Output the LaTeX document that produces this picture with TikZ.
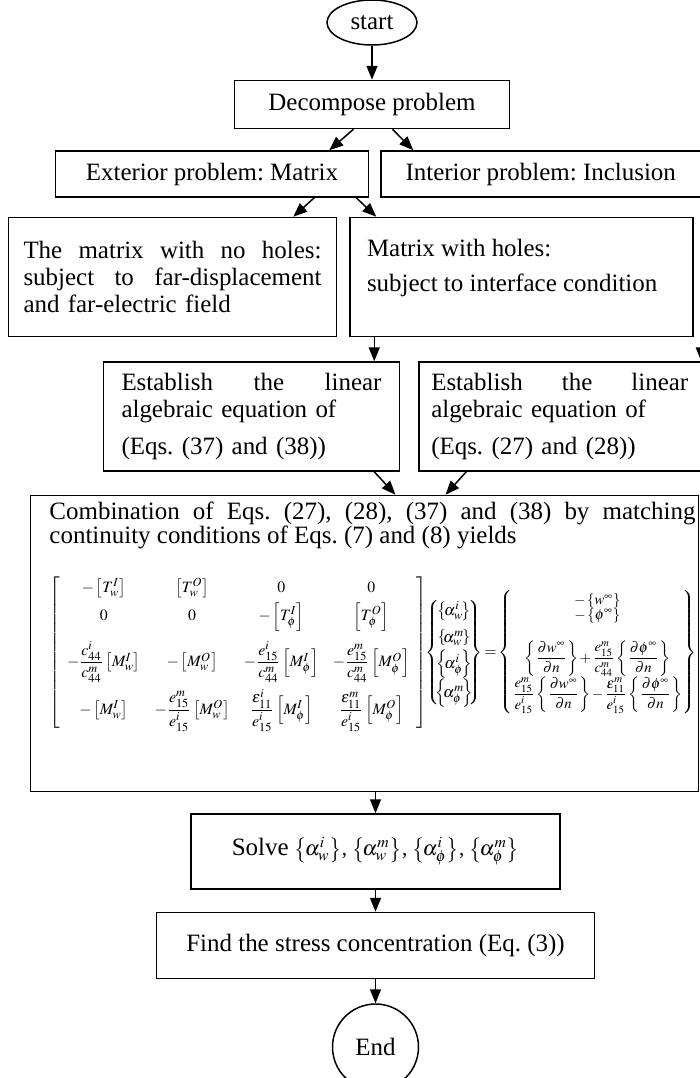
\documentclass[tikz,border=0pt]{standalone}
\usepackage{amsmath}
\usepackage{mathptmx}
\usepackage[no-math]{fontspec}
\setmainfont{Liberation Serif}
\usetikzlibrary{arrows.meta, positioning, shapes.geometric}
\frenchspacing

\newcommand{\fullline}[2]{\makebox[#1][s]{\spaceskip=0pt\xspaceskip=0pt #2}}
\newcommand{\eqsize}{\fontsize{9pt}{10pt}\selectfont}
\newcommand{\rhssize}{\fontsize{8.4pt}{9.4pt}\selectfont}

\begin{document}
\begin{tikzpicture}[
  font=\fontsize{14.2pt}{15.2pt}\selectfont,
  node distance=4mm,
  box/.style={draw, line width=0.3mm, inner sep=0pt, align=center},
  tbox/.style={draw, line width=0.3mm, inner xsep=3.4mm, inner ysep=4.4mm},
  term/.style={draw, line width=0.3mm, inner sep=0pt},
  ar/.style={-{Triangle[length=2.8mm, width=2.2mm]}, line width=0.3mm},
]
\useasboundingbox (0,0) rectangle (140mm,-215.6mm);

%% start + decomposition
\node[term, ellipse, minimum width=18mm, minimum height=9mm] (start) at (74.4mm,-4.5mm) {start};
\node[box, below=6.8mm of start, minimum width=55mm, minimum height=9.6mm] (decomp) {Decompose problem};

%% exterior / interior
\node[box, below=4.2mm of decomp, xshift=-32mm, minimum width=62.6mm, minimum height=9.2mm] (exter)
  {Exterior problem: Matrix};
\node[box, right=2.2mm of exter, minimum width=63.9mm, minimum height=9.2mm] (inter)
  {Interior problem: Inclusion};

%% matrix with / without holes
\node[box, below=3.8mm of exter, xshift=-7.9mm, minimum width=65.6mm, minimum height=23.8mm,
      text width=59.6mm, align=left] (nohole)
  {\fullline{59.6mm}{The matrix with no holes:}\\ \fullline{59.6mm}{subject to far-displacement}\\
   and far-electric field};
\node[tbox, right=2.4mm of nohole] (holes)
  {\parbox[c][15mm][t]{61.8mm}{Matrix with holes:\\[1.6mm] subject to interface condition}};

%% linear algebraic equations
\node[box, below=4.8mm of nohole, xshift=15.8mm, minimum width=59.2mm, minimum height=21.8mm,
      text width=52mm, align=left] (est1)
  {\fullline{52mm}{Establish the linear}\\ algebraic equation of\\[2mm] (Eqs. (37) and (38))};
\node[box, right=3.6mm of est1, minimum width=56.3mm, minimum height=21.8mm,
      text width=51.4mm, align=left] (est2)
  {\fullline{51.4mm}{Establish the linear}\\ algebraic equation of\\[2mm] (Eqs. (27) and (28))};

%% combined system
\node[tbox, below=4.6mm of est1, xshift=22.6mm, inner xsep=0.6mm, inner ysep=1.2mm] (comb)
  {\hspace*{3.2mm}\parbox[c][56.8mm][t]{129.2mm}{%
    {\fontsize{14.2pt}{14pt}\selectfont\lineskiplimit=-5pt
     \fullline{\linewidth}{Combination of Eqs. (27), (28), (37) and (38) by matching}\\
     continuity conditions of Eqs. (7) and (8) yields\par}
    \vspace{4.4mm}
    {\eqsize\renewcommand{\arraystretch}{1.6}\setlength{\arraycolsep}{4pt}%
    \mbox{$\left[\begin{array}{cccc}
      -\left[T^{I}_{w}\right] & \left[T^{O}_{w}\right] & 0 & 0\\
      0 & 0 & -\left[T^{I}_{\phi}\right] & \left[T^{O}_{\phi}\right]\\[7pt]
      -\dfrac{c^{i}_{44}}{c^{m}_{44}}\left[M^{I}_{w}\right] & -\left[M^{O}_{w}\right]
        & -\dfrac{e^{i}_{15}}{c^{m}_{44}}\left[M^{I}_{\phi}\right]
        & -\dfrac{e^{m}_{15}}{c^{m}_{44}}\left[M^{O}_{\phi}\right]\\[8pt]
      -\left[M^{I}_{w}\right] & -\dfrac{e^{m}_{15}}{e^{i}_{15}}\left[M^{O}_{w}\right]
        & \dfrac{\varepsilon^{i}_{11}}{e^{i}_{15}}\left[M^{I}_{\phi}\right]
        & \dfrac{\varepsilon^{m}_{11}}{e^{i}_{15}}\left[M^{O}_{\phi}\right]
    \end{array}\right]\!\!
    \renewcommand{\arraystretch}{1.5}%
    \left\{\mskip-5mu\begin{array}{@{}c@{}}
      \left\{\mskip-3mu\alpha^{i}_{w}\mskip-2mu\right\}\\ \left\{\mskip-3mu\alpha^{m}_{w}\mskip-2mu\right\}\\
      \left\{\mskip-3mu\alpha^{i}_{\phi}\mskip-2mu\right\}\\ \left\{\mskip-3mu\alpha^{m}_{\phi}\mskip-2mu\right\}
    \end{array}\mskip-5mu\right\}
    \mskip-2mu=\mskip-2mu
    \renewcommand{\arraystretch}{1.2}\rhssize\medmuskip=1.5mu
    \left\{\begin{array}{@{}c@{}}
      -\left\{w^{\infty}\right\}\\[-3pt]
      -\left\{\phi^{\infty}\right\}\\[9pt]
      \left\{\dfrac{\partial w^{\infty}}{\partial n}\right\}
        +\dfrac{e^{m}_{15}}{c^{m}_{44}}\left\{\dfrac{\partial\phi^{\infty}}{\partial n}\right\}\\[3pt]
      \dfrac{e^{m}_{15}}{e^{i}_{15}}\left\{\dfrac{\partial w^{\infty}}{\partial n}\right\}
        -\dfrac{\varepsilon^{m}_{11}}{e^{i}_{15}}\left\{\dfrac{\partial\phi^{\infty}}{\partial n}\right\}
    \end{array}\right\}$}\par}}};

%% solve + result
\node[box, below=4.2mm of comb, xshift=2.2mm, minimum width=73.8mm, minimum height=15mm] (solve)
  {Solve {\fontsize{12pt}{13pt}\selectfont $\bigl\{\mskip-2mu\alpha^{i}_{w}\bigr\}$, $\bigl\{\mskip-2mu\alpha^{m}_{w}\bigr\}$,
   $\bigl\{\mskip-2mu\alpha^{i}_{\phi}\bigr\}$, $\bigl\{\mskip-2mu\alpha^{m}_{\phi}\bigr\}$}};
\node[box, below=4.4mm of solve, minimum width=87.6mm, minimum height=13.2mm] (find)
  {Find the stress concentration (Eq. (3))};
\node[term, circle, below=4.8mm of find, minimum size=17.2mm] (stop) {End};

\coordinate (hdrop) at ([xshift=5mm]holes.south west);

\draw[ar] (start) -- (decomp);
\draw[ar] ([xshift=-3.7mm]decomp.south) -- ([xshift=-8mm]exter.north east);
\draw[ar] ([xshift=4.1mm]decomp.south) -- ([xshift=6.6mm]inter.north west);
\draw[ar] ([xshift=-11mm]exter.south east) -- ([xshift=-8.8mm]nohole.north east);
\draw[ar] ([xshift=-2.6mm]exter.south east) -- ([xshift=5.4mm]holes.north west);
\draw[ar] (hdrop) -- (hdrop |- est1.north);
\draw[ar] (inter.south east) -- (inter.south east |- est2.north);
\draw[ar] ([xshift=-5.2mm]est1.south east) -- ([xshift=6.2mm]comb.north);
\draw[ar] ([xshift=9.6mm]est2.south west) -- ([xshift=16.2mm]comb.north);
\draw[ar] (solve.north |- comb.south) -- (solve.north);
\draw[ar] (solve) -- (find);
\draw[ar] (find) -- (stop);
\end{tikzpicture}
\end{document}
